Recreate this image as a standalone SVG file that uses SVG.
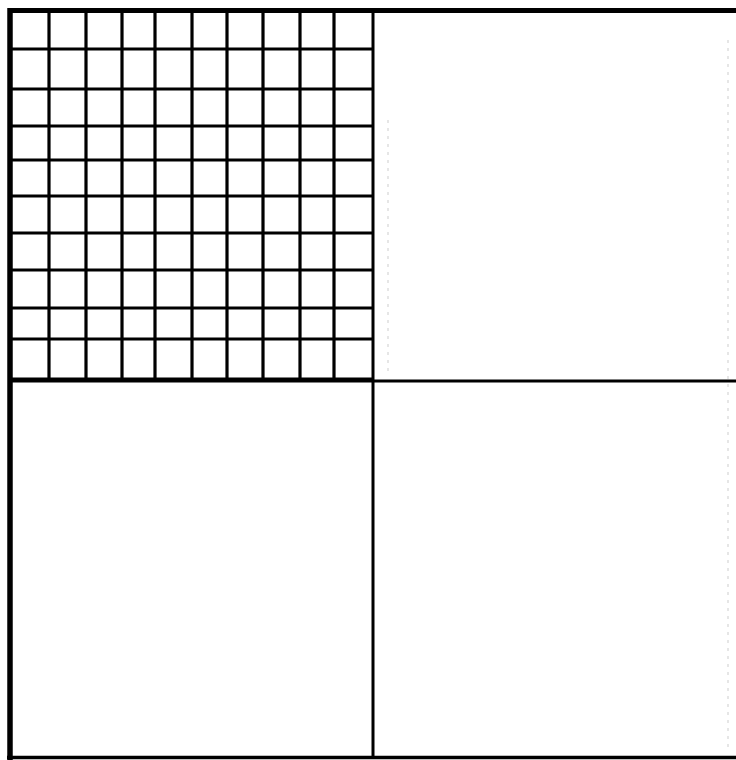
<svg xmlns="http://www.w3.org/2000/svg" width="736" height="760" viewBox="0 0 736 760">
<style>
.g{stroke:#000;stroke-width:3.2;fill:none}
.b{stroke:#000;fill:none}
.f{stroke:#e6e6e6;stroke-width:2;fill:none;stroke-dasharray:3 5}
</style>
<rect width="736" height="760" fill="#fff"/>
<g id="faint">
<line class="f" x1="728" y1="40" x2="728" y2="752"/>
<line class="f" x1="388" y1="120" x2="388" y2="372"/>
</g>
<g id="grid">
<line class="g" x1="49" y1="10" x2="49" y2="381"/>
<line class="g" x1="86" y1="10" x2="86" y2="381"/>
<line class="g" x1="122" y1="10" x2="122" y2="381"/>
<line class="g" x1="155" y1="10" x2="155" y2="381"/>
<line class="g" x1="192" y1="10" x2="192" y2="381"/>
<line class="g" x1="227" y1="10" x2="227" y2="381"/>
<line class="g" x1="263" y1="10" x2="263" y2="381"/>
<line class="g" x1="300" y1="10" x2="300" y2="381"/>
<line class="g" x1="334" y1="10" x2="334" y2="381"/>
<line class="g" x1="10" y1="49" x2="373" y2="49"/>
<line class="g" x1="10" y1="89" x2="373" y2="89"/>
<line class="g" x1="10" y1="126" x2="373" y2="126"/>
<line class="g" x1="10" y1="160" x2="373" y2="160"/>
<line class="g" x1="10" y1="196" x2="373" y2="196"/>
<line class="g" x1="10" y1="233" x2="373" y2="233"/>
<line class="g" x1="10" y1="270" x2="373" y2="270"/>
<line class="g" x1="10" y1="308" x2="373" y2="308"/>
<line class="g" x1="10" y1="339" x2="373" y2="339"/>
</g>
<g id="dividers">
<line class="b" stroke-width="3" x1="373" y1="10" x2="373" y2="758"/>
<line class="b" stroke-width="3" x1="373" y1="381" x2="736" y2="381"/>
<line class="b" stroke-width="5" x1="10" y1="380" x2="374" y2="380"/>
</g>
<g id="border">
<line class="b" stroke-width="5" x1="10" y1="10.5" x2="736" y2="10.5"/>
<line class="b" stroke-width="5.5" x1="10" y1="8" x2="10" y2="760"/>
<line class="b" stroke-width="3.5" x1="7" y1="757.5" x2="736" y2="757.5"/>
</g>
</svg>
